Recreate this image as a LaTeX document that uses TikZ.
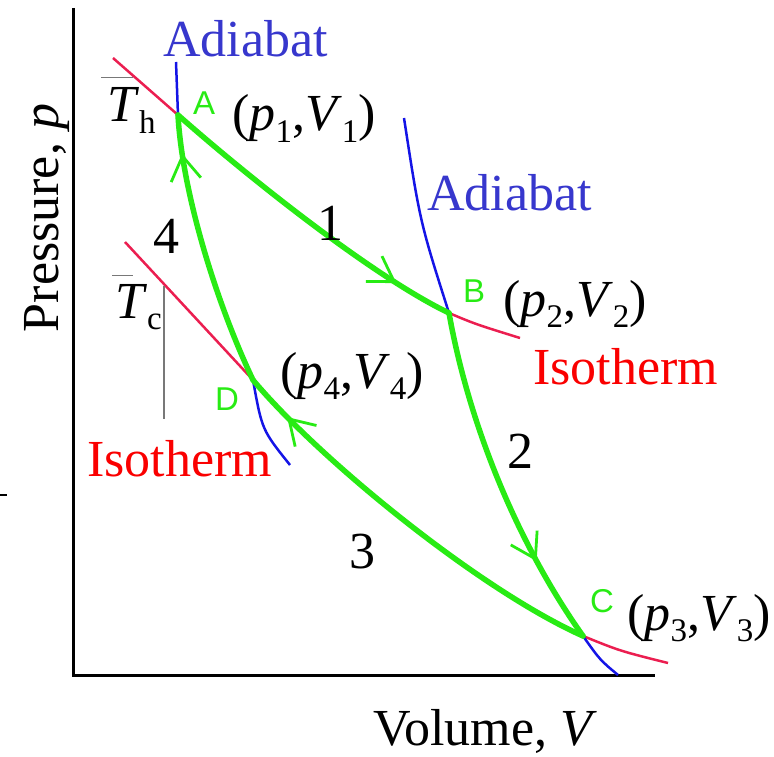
\documentclass[tikz,border=0pt]{standalone}
\usepackage{fontspec}
\setmainfont{Liberation Serif}
\newfontfamily\ptfont{Liberation Sans}
\usetikzlibrary{arrows.meta,decorations.markings}
\definecolor{CycGreen}{RGB}{40,235,20}
\definecolor{IsoLine}{RGB}{235,30,80}
\definecolor{IsoText}{RGB}{250,0,0}
\definecolor{AdiLine}{RGB}{20,20,230}
\definecolor{AdiText}{RGB}{55,55,205}
\definecolor{BarGray}{RGB}{120,120,120}
\newcommand\bigtext{\fontsize{52}{52}\selectfont}
\newcommand\sbs[1]{\raisebox{-0.22em}{\fontsize{33}{33}\selectfont #1}}
\newcommand\pv[1]{(\textit{p}\sbs{#1},\textit{V}\sbs{#1})}

\begin{document}
\begin{tikzpicture}[x=1pt,y=-1pt,
  lbl/.style={inner sep=0pt,anchor=base west,font=\bigtext},
  ptlbl/.style={inner sep=0pt,anchor=base west,text=CycGreen,font=\ptfont\fontsize{33}{33}\selectfont},
  axis/.style={line width=3pt,black},
  iso/.style={line width=2.5pt,IsoLine},
  adi/.style={line width=2.5pt,AdiLine},
  leg/.style={line width=5.5pt,CycGreen,line cap=round},
  midarrow/.style={postaction={decorate,decoration={markings,
    mark=at position #1 with {\arrow{Straight Barb[length=24pt,width=30pt,line width=2.8pt]}}}}}
]
\useasboundingbox (0,0) rectangle (774,757);
% axes
\draw[axis] (73,8) -- (73,675) -- (655,675);
\draw[line width=1.5pt] (0,495) -- (7,495);
\node[lbl,anchor=base west] (vlab) at (373,745) {Volume, \textit{V}};
\node[lbl,rotate=90,anchor=base] (plab) at (58,218) {Pressure, \textit{p}};
% corners of the cycle
\coordinate (A) at (178,115);
\coordinate (B) at (449,313);
\coordinate (C) at (583,636);
\coordinate (D) at (253,380);
% isotherms and adiabats
\draw[iso] (113,58) -- (A);
\draw[iso] (B) .. controls (475,324) .. (520,338);
\draw[iso] (125,242) -- (D);
\draw[iso] (C) .. controls (620,651) .. (668,663);
\draw[adi] (176,62) -- (A);
\draw[adi] (404,118) .. controls (420,222) .. (B);
\draw[adi] (D) .. controls (262,430) .. (290,465);
\draw[adi] (C) .. controls (600,660) .. (618,675);
\draw[line width=2.5pt,BarGray] (164,286) -- (164,419);
\draw[line width=0.8pt,BarGray] (101,77) -- (133,77);
\draw[line width=0.8pt,BarGray] (112,275) -- (133,275);
% the cycle
\draw[leg,midarrow=0.82] (A) .. controls (240,170) and (370,275) .. (B);
\draw[leg,midarrow=0.75] (B) .. controls (468,420) and (515,540) .. (C);
\draw[leg,midarrow=0.88] (C) .. controls (480,590) and (320,460) .. (D);
\draw[leg,midarrow=0.86] (D) .. controls (215,300) and (182,190) .. (A);
% labels
\node[ptlbl] (Alab) at (193,115) {A};
\node[ptlbl] (Blab) at (463,302) {B};
\node[ptlbl] (Clab) at (590,612) {C};
\node[ptlbl] (Dlab) at (215,410) {D};
\node[lbl] (pv1) at (232,131) {\pv{1}};
\node[lbl] (pv2) at (503,316) {\pv{2}};
\node[lbl] (pv3) at (627,630) {\pv{3}};
\node[lbl] (pv4) at (280,388) {\pv{4}};
\node[lbl] (Th) at (107,122) {\textit{T}\sbs{h}};
\node[lbl] (Tc) at (115,318) {\textit{T}\sbs{c}};
\node[lbl,text=AdiText] (adi1) at (163,57) {Adiabat};
\node[lbl,text=AdiText] (adi2) at (427,211) {Adiabat};
\node[lbl,text=IsoText] (iso1) at (533,384) {Isotherm};
\node[lbl,text=IsoText] (iso2) at (87,476) {Isotherm};
\node[lbl,anchor=base] (n1) at (330,240) {1};
\node[lbl,anchor=base] (n2) at (520,468) {2};
\node[lbl,anchor=base] (n3) at (362,568) {3};
\node[lbl,anchor=base] (n4) at (166,253) {4};
\end{tikzpicture}
\end{document}
